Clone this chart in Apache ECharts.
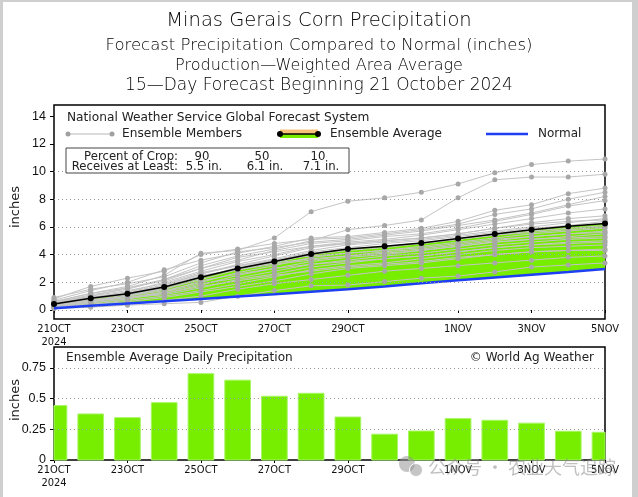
<!DOCTYPE html>
<html><head><meta charset="utf-8">
<script src="https://cdn.jsdelivr.net/npm/echarts@6/dist/echarts.min.js"></script>
<style>html,body{margin:0;padding:0;background:#fff}#c{width:638px;height:497px}</style>
</head><body><div id="c"></div>
<script>
// ---- data ----
const dates = ['21OCT','22OCT','23OCT','24OCT','25OCT','26OCT','27OCT','28OCT','29OCT','30OCT','31OCT','1NOV','2NOV','3NOV','4NOV','5NOV'];
const tickLabels = ['21OCT','23OCT','25OCT','27OCT','29OCT','1NOV','3NOV','5NOV'];
const yearLabel = '2024';
const yTicksTop = [0,2,4,6,8,10,12,14];
const gridLinesTop = [0,2,4,6,8,10];
const yTicksBottom = [0,0.25,0.5,0.75];
const ensembleAvg = [0.43,0.84,1.18,1.66,2.36,3.0,3.5,4.04,4.4,4.6,4.83,5.17,5.48,5.8,6.04,6.25];
const normalPrecip = [0.12,0.3,0.47,0.63,0.8,0.97,1.14,1.32,1.5,1.7,1.93,2.15,2.35,2.55,2.75,2.96];
const dailyAvg = [0.443,0.375,0.345,0.467,0.703,0.65,0.519,0.543,0.35,0.21,0.236,0.337,0.323,0.30,0.234,0.226];
const members = [
 [0.6,1.2,1.7,2.5,4.1,4.3,5.2,7.1,7.85,8.1,8.5,9.1,9.9,10.5,10.75,10.9],
 [0.5,1.1,1.5,2.2,3.2,3.9,4.4,5.0,5.8,6.1,6.5,8.1,9.4,9.6,9.6,9.8],
 [0.7,1.4,2.0,2.9,3.6,4.1,4.6,5.2,5.3,5.6,5.9,6.4,7.2,7.6,8.4,8.8],
 [0.8,1.7,2.3,2.8,4.0,4.4,4.8,5.1,5.2,5.5,5.8,6.2,6.9,7.3,8.0,8.5],
 [0.9,1.5,1.9,2.4,3.4,4.2,4.5,4.9,5.1,5.4,5.7,6.1,6.5,7.0,7.6,8.2],
 [0.4,1.0,1.6,2.1,3.0,3.6,4.3,4.8,5.0,5.3,5.5,5.9,6.4,6.9,7.5,7.9],
 [0.5,0.9,1.3,2.0,2.8,3.5,4.0,4.6,4.9,5.1,5.4,5.8,6.2,6.6,7.0,7.3],
 [0.3,0.8,1.2,1.8,2.6,3.3,3.9,4.5,4.8,5.0,5.2,5.5,5.9,6.3,6.6,6.8],
 [0.6,1.0,1.4,1.9,2.7,3.2,3.7,4.3,4.7,4.9,5.1,5.4,5.7,6.0,6.3,6.6],
 [0.2,0.6,1.0,1.6,2.4,3.0,3.6,4.2,4.5,4.8,5.0,5.3,5.6,5.9,6.1,6.4],
 [0.4,0.9,1.1,1.5,2.2,2.9,3.4,4.0,4.3,4.5,4.8,5.1,5.4,5.7,5.9,6.1],
 [0.3,0.7,1.0,1.4,2.0,2.7,3.2,3.8,4.1,4.3,4.6,4.9,5.2,5.5,5.7,5.9],
 [0.5,0.8,1.2,1.7,2.5,2.9,3.3,3.6,3.9,4.2,4.4,4.7,5.0,5.3,5.5,5.7],
 [0.2,0.5,0.8,1.2,1.8,2.5,3.0,3.5,3.8,4.0,4.3,4.6,4.9,5.1,5.3,5.5],
 [0.4,0.7,0.9,1.3,1.9,2.3,2.8,3.3,3.6,3.9,4.1,4.4,4.7,4.9,5.1,5.2],
 [0.3,0.6,0.9,1.1,1.6,2.2,2.6,3.1,3.4,3.7,3.9,4.2,4.5,4.7,4.9,5.0],
 [0.2,0.4,0.7,1.0,1.4,1.9,2.4,2.9,3.2,3.4,3.7,4.0,4.3,4.5,4.6,4.7],
 [0.1,0.4,0.6,0.9,1.3,1.7,2.1,2.6,3.0,3.2,3.4,3.7,4.0,4.2,4.3,4.4],
 [0.2,0.3,0.5,0.7,1.0,1.5,1.9,2.2,2.5,2.8,3.0,3.2,3.4,3.6,3.8,3.9],
 [0.1,0.2,0.35,0.45,0.55,1.0,1.4,1.75,1.8,2.05,2.3,2.45,2.75,3.1,3.25,3.4],
 [0.3,0.6,1.0,1.5,2.3,3.1,3.6,4.1,4.4,4.6,4.8,5.1,5.4,5.6,5.8,6.0],
 [0.6,1.2,1.6,2.2,3.0,3.8,4.2,4.6,4.8,5.0,5.2,5.5,5.9,6.2,6.4,6.5],
 [0.4,0.6,0.9,1.2,1.7,2.1,2.5,2.8,3.1,3.3,3.5,3.8,4.0,4.2,4.3,4.3],
 [0.2,0.5,0.8,1.3,2.1,2.6,3.0,3.3,3.5,3.7,3.9,4.2,4.5,4.7,4.8,4.9],
 [0.5,0.9,1.3,1.8,2.6,3.2,3.6,3.9,4.1,4.3,4.5,4.8,5.1,5.3,5.5,5.6],
 [0.3,0.7,1.1,1.6,2.4,3.0,3.4,3.7,3.9,4.1,4.3,4.6,4.9,5.1,5.2,5.3]
];
const titleLines = ['Minas Gerais Corn Precipitation','Forecast Precipitation Compared to Normal (inches)','Production\u2014Weighted Area Average','15\u2014Day Forecast Beginning 21 October 2024'];
const cropPercents = ['90','50','10'];
const cropAmounts = ['5.5 in.','6.1 in.','7.1 in.'];

// ---- styles ----
const FONT = "'DejaVu Sans', sans-serif";
const NARROW = "'Liberation Sans Narrow','DejaVu Sans Condensed',sans-serif";
const GREEN = '#77ee00';
const BLUE = '#1f3ff5';
const showTick = (i, v) => tickLabels.includes(v);

const chart = echarts.init(document.getElementById('c'), null, {renderer:'canvas'});

const xAxisBase = (gi) => ({
  type:'category', gridIndex:gi, data:dates, boundaryGap:false,
  axisLine:{show:false},
  axisTick:{show:true, interval:showTick, length:3, lineStyle:{color:'#000'}},
  axisLabel:{interval:showTick, margin:4, fontFamily:NARROW, fontSize:11, color:'#111', lineHeight:13,
    formatter:(v, i) => i === 0 ? v + '\n' + yearLabel : v},
  splitLine:{show:false}
});

const series = [];
series.push({type:'line', xAxisIndex:0, yAxisIndex:0, stack:'band', data:normalPrecip, symbol:'none',
  lineStyle:{width:0, opacity:0}, silent:true, z:1});
series.push({type:'line', xAxisIndex:0, yAxisIndex:0, stack:'band', data:ensembleAvg.map((v,i)=>+(v-normalPrecip[i]).toFixed(3)),
  symbol:'none', lineStyle:{width:0, opacity:0}, areaStyle:{color:GREEN, opacity:1}, silent:true, z:1});
series.push({type:'line', xAxisIndex:0, yAxisIndex:0, data:[], silent:true, z:2,
  markLine:{silent:true, symbol:'none', animation:false, label:{show:false},
    lineStyle:{color:'#9a9a9a', type:[1,3], width:1},
    data: gridLinesTop.map(v => ({yAxis:v}))}});
members.forEach(m => series.push({type:'line', xAxisIndex:0, yAxisIndex:0, data:m, z:3, silent:true,
  symbol:'circle', symbolSize:5, showAllSymbol:true,
  lineStyle:{color:'#c4c4c4', width:1}, itemStyle:{color:'#a8a8a8'}}));
series.push({type:'line', xAxisIndex:0, yAxisIndex:0, data:normalPrecip, z:4, symbol:'none', silent:true,
  lineStyle:{color:BLUE, width:2.5}});
series.push({type:'line', xAxisIndex:0, yAxisIndex:0, data:ensembleAvg, z:5, silent:true,
  symbol:'circle', symbolSize:6, showAllSymbol:true,
  lineStyle:{color:'#000', width:1.5}, itemStyle:{color:'#000'}});
series.push({type:'line', xAxisIndex:1, yAxisIndex:1, data:[], silent:true, z:1,
  markLine:{silent:true, symbol:'none', animation:false, label:{show:false},
    lineStyle:{color:'#9a9a9a', type:[1,3], width:1},
    data: yTicksBottom.filter(v=>v>0).map(v => ({yAxis:v}))}});
series.push({type:'custom', xAxisIndex:1, yAxisIndex:1, z:2, silent:true,
  data: dailyAvg.map((v,i)=>[i, v]), encode:{x:0, y:1},
  renderItem:(params, api) => {
    const top = api.coord([api.value(0), api.value(1)]);
    const base = api.coord([api.value(0), 0]);
    const w = api.size([1, 0])[0] * 0.7;
    const cs = params.coordSys;
    const r = echarts.graphic.clipRectByRect(
      {x: top[0]-w/2, y: top[1], width: w, height: base[1]-top[1]},
      {x: cs.x, y: cs.y, width: cs.width, height: cs.height});
    return r ? {type:'rect', shape:r, style:{fill:GREEN, stroke:'#a8f566', lineWidth:1}} : null;
  }});

const txt = (text, x, y, size, opts={}) => Object.assign({type:'text', x, y, z:100,
  style:Object.assign({text, font:`${opts.weight||'normal'} ${size}px ${FONT}`, fill:opts.fill||'#222', align:'left', verticalAlign:'middle'}, opts.style||{})}, opts.el||{});

const graphic = [
  {type:'rect', shape:{x:0,y:0,width:3,height:497}, style:{fill:'#cfcfcf'}, z:100},
  {type:'rect', shape:{x:0,y:0,width:638,height:2}, style:{fill:'#cfcfcf'}, z:100},
  {type:'rect', shape:{x:632,y:0,width:6,height:497}, style:{fill:'#cfcfcf'}, z:100},
  txt(titleLines[0], 319, 21, 19.5, {style:{align:'center'}, weight:200, fill:'#000'}),
  txt(titleLines[1], 319, 46, 16.5, {style:{align:'center'}, weight:200, fill:'#000'}),
  txt(titleLines[2], 319, 66, 16, {style:{align:'center'}, weight:200, fill:'#000'}),
  txt(titleLines[3], 319, 86, 17, {style:{align:'center'}, weight:200, fill:'#000'}),
  txt('inches', 16, 207, 13, {style:{align:'center'}, el:{rotation:Math.PI/2}}),
  txt('inches', 16, 400, 13, {style:{align:'center'}, el:{rotation:Math.PI/2}}),
  txt('National Weather Service Global Forecast System', 67, 118, 12.2),
  {type:'line', shape:{x1:68,y1:134,x2:112,y2:134}, style:{stroke:'#b8b8b8', lineWidth:1}, z:100},
  {type:'circle', shape:{cx:68,cy:134,r:2.5}, style:{fill:'#a0a0a0'}, z:101},
  {type:'circle', shape:{cx:112,cy:134,r:2.5}, style:{fill:'#a0a0a0'}, z:101},
  txt('Ensemble Members', 122, 134, 12.2),
  {type:'rect', shape:{x:280,y:129.5,width:38,height:4.5}, style:{fill:'#f6c27a'}, z:100},
  {type:'rect', shape:{x:280,y:134,width:38,height:4}, style:{fill:GREEN}, z:100},
  {type:'line', shape:{x1:280,y1:134,x2:318,y2:134}, style:{stroke:'#000', lineWidth:1.5}, z:101},
  {type:'circle', shape:{cx:280,cy:134,r:3}, style:{fill:'#000'}, z:102},
  {type:'circle', shape:{cx:318,cy:134,r:3}, style:{fill:'#000'}, z:102},
  txt('Ensemble Average', 330, 134, 12),
  {type:'line', shape:{x1:486,y1:134,x2:528,y2:134}, style:{stroke:BLUE, lineWidth:2.5}, z:100},
  txt('Normal', 538, 134, 12),
  {type:'rect', shape:{x:66,y:148,width:283,height:25}, style:{fill:'#fff', stroke:'#444', lineWidth:1}, z:99},
  txt('Percent of Crop:', 178, 157, 11.7, {style:{align:'right'}}),
  txt('Receives at Least:', 178, 167, 11.7, {style:{align:'right'}}),
  txt(cropPercents[0], 202, 157, 11.7, {style:{align:'center'}}),
  txt(cropPercents[1], 262, 157, 11.7, {style:{align:'center'}}),
  txt(cropPercents[2], 318, 157, 11.7, {style:{align:'center'}}),
  txt(cropAmounts[0], 204, 167, 11.7, {style:{align:'center'}}),
  txt(cropAmounts[1], 265, 167, 11.7, {style:{align:'center'}}),
  txt(cropAmounts[2], 321, 167, 11.7, {style:{align:'center'}}),
  txt('Ensemble Average Daily Precipitation', 66, 358, 12.1),
  txt('\u00A9 World Ag Weather', 594, 358, 12, {style:{align:'right'}}),
  {type:'circle', shape:{cx:407,cy:464,r:8}, style:{fill:'rgba(150,150,150,0.55)'}, z:110},
  {type:'circle', shape:{cx:416,cy:470,r:6.5}, style:{fill:'rgba(150,150,150,0.55)', stroke:'#fff', lineWidth:1}, z:111},
  {type:'text', x:428, y:467, z:112, style:{text:'公众号 · 农业天气追踪', font:"18px 'Noto Sans CJK SC', sans-serif", fill:'rgba(140,140,140,0.55)', align:'left', verticalAlign:'middle'}}
];

chart.setOption({
  animation:false,
  backgroundColor:'#fff',
  grid:[
    {left:54, top:105, width:551, height:214, show:true, borderColor:'#000', borderWidth:1.5, backgroundColor:'transparent'},
    {left:54, top:347, width:551, height:113, show:true, borderColor:'#000', borderWidth:1.5, backgroundColor:'transparent'}
  ],
  xAxis:[xAxisBase(0), xAxisBase(1)],
  yAxis:[
    {type:'value', gridIndex:0, min:-0.65, max:14.8, splitNumber:7,
      axisLine:{show:false}, splitLine:{show:false},
      axisTick:{show:true, length:4, customValues:yTicksTop, lineStyle:{color:'#000'}},
      axisLabel:{customValues:yTicksTop, margin:8, fontFamily:"'Liberation Sans',sans-serif", fontSize:12.5, color:'#111',
        formatter:v => yTicksTop.includes(v) ? String(v) : ''}},
    {type:'value', gridIndex:1, min:0, max:0.92, splitNumber:4,
      axisLine:{show:false}, splitLine:{show:false},
      axisTick:{show:true, length:4, customValues:yTicksBottom, lineStyle:{color:'#000'}},
      axisLabel:{customValues:yTicksBottom, margin:8, fontFamily:"'Liberation Sans',sans-serif", fontSize:12.5, color:'#111',
        formatter:v => yTicksBottom.includes(v) ? String(v) : ''}}
  ],
  series,
  graphic
});
</script>
</body></html>
